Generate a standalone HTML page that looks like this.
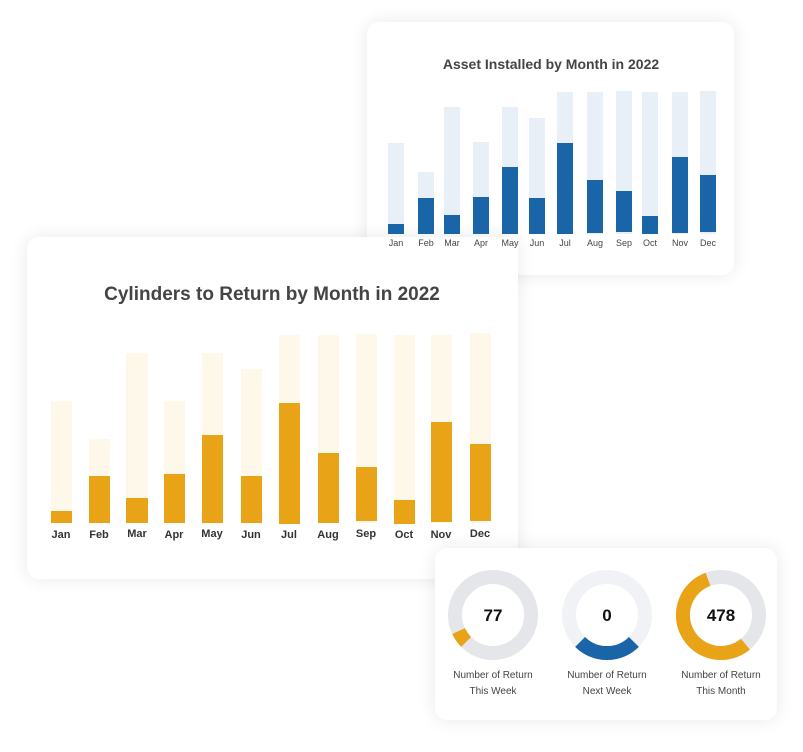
<!DOCTYPE html>
<html><head><style>
html,body{margin:0;padding:0;background:#fff;width:803px;height:752px;overflow:hidden}
.card{position:absolute;background:#fff;border-radius:12px;box-shadow:0 0 18px rgba(0,0,0,0.09)}
svg{position:absolute;left:0;top:0}
text{font-family:"Liberation Sans",sans-serif}
</style></head><body>
<div class="card" style="left:367px;top:22px;width:367px;height:253px"></div>
<div class="card" style="left:27px;top:237px;width:491px;height:342px"></div>
<div class="card" style="left:435px;top:548px;width:342px;height:172px"></div>
<svg width="803" height="752">
<text x="551" y="69" text-anchor="middle" font-size="14" font-weight="bold" fill="#444">Asset Installed by Month in 2022</text>
<g fill="#E8EFF6">
<rect x="388" y="143" width="16" height="91"/><rect x="418" y="172" width="16" height="62"/><rect x="444" y="107" width="16" height="127"/><rect x="473" y="142" width="16" height="92"/><rect x="502" y="107" width="16" height="127"/><rect x="529" y="118" width="16" height="116"/><rect x="557" y="92" width="16" height="142"/><rect x="587" y="92" width="16" height="142"/><rect x="616" y="91" width="16" height="143"/><rect x="642" y="92" width="16" height="142"/><rect x="672" y="92" width="16" height="142"/><rect x="700" y="91" width="16" height="143"/>
</g>
<g fill="#1A65A8">
<rect x="388" y="224" width="16" height="10"/><rect x="418" y="198" width="16" height="36"/><rect x="444" y="215" width="16" height="19"/><rect x="473" y="197" width="16" height="37"/><rect x="502" y="167" width="16" height="67"/><rect x="529" y="198" width="16" height="36"/><rect x="557" y="143" width="16" height="91"/><rect x="587" y="180" width="16" height="53"/><rect x="616" y="191" width="16" height="41"/><rect x="642" y="216" width="16" height="18"/><rect x="672" y="157" width="16" height="76"/><rect x="700" y="175" width="16" height="57"/>
</g>
<g font-size="9" fill="#444" text-anchor="middle">
<text x="396" y="246">Jan</text><text x="426" y="246">Feb</text><text x="452" y="246">Mar</text><text x="481" y="246">Apr</text><text x="510" y="246">May</text><text x="537" y="246">Jun</text><text x="565" y="246">Jul</text><text x="595" y="246">Aug</text><text x="624" y="246">Sep</text><text x="650" y="246">Oct</text><text x="680" y="246">Nov</text><text x="708" y="246">Dec</text>
</g>

<text x="272" y="300" text-anchor="middle" font-size="19" font-weight="bold" fill="#444">Cylinders to Return by Month in 2022</text>
<g fill="#FDF8EA">
<rect x="51" y="401" width="21" height="122"/><rect x="89" y="439" width="21" height="84"/><rect x="126" y="353" width="22" height="170"/><rect x="164" y="401" width="21" height="122"/><rect x="202" y="353" width="21" height="170"/><rect x="241" y="369" width="21" height="154"/><rect x="279" y="335" width="21" height="188"/><rect x="318" y="335" width="21" height="188"/><rect x="356" y="334" width="21" height="189"/><rect x="394" y="335" width="21" height="188"/><rect x="431" y="335" width="21" height="188"/><rect x="470" y="333" width="21" height="190"/>
</g>
<g fill="#E8A317">
<rect x="51" y="511" width="21" height="12"/><rect x="89" y="476" width="21" height="47"/><rect x="126" y="498" width="22" height="25"/><rect x="164" y="474" width="21" height="49"/><rect x="202" y="435" width="21" height="88"/><rect x="241" y="476" width="21" height="47"/><rect x="279" y="403" width="21" height="121"/><rect x="318" y="453" width="21" height="70"/><rect x="356" y="467" width="21" height="54"/><rect x="394" y="500" width="21" height="24"/><rect x="431" y="422" width="21" height="100"/><rect x="470" y="444" width="21" height="77"/>
</g>
<g font-size="11" font-weight="bold" fill="#333" text-anchor="middle">
<text x="61" y="538">Jan</text><text x="99" y="538">Feb</text><text x="137" y="537">Mar</text><text x="174" y="538">Apr</text><text x="212" y="537">May</text><text x="251" y="538">Jun</text><text x="289" y="538">Jul</text><text x="328" y="538">Aug</text><text x="366" y="537">Sep</text><text x="404" y="538">Oct</text><text x="441" y="538">Nov</text><text x="480" y="537">Dec</text>
</g>

<g fill="none" stroke-width="14">
<circle cx="493" cy="615" r="38" stroke="#E4E6E9"/>
<circle cx="607" cy="615" r="38" stroke="#F0F2F5"/>
<circle cx="721" cy="615" r="38" stroke="#E4E6E9"/>
<!-- 77: arc 225deg to 245deg clockwise from top -->
<path d="M466.1 641.9 A38 38 0 0 1 458.6 631.1" stroke="#E8A317"/>
<!-- 0: bottom arc 135 to 225 -->
<path d="M633.9 641.9 A38 38 0 0 1 580.1 641.9" stroke="#1A65A8"/>
<!-- 478: from 140deg clockwise to 340deg -->
<path d="M745.4 644.1 A38 38 0 1 1 708.0 579.3" stroke="#E8A317"/>
</g>
<g font-size="17" font-weight="bold" fill="#111" text-anchor="middle">
<text x="493" y="621">77</text><text x="607" y="621">0</text><text x="721" y="621">478</text>
</g>
<g font-size="10" fill="#444" text-anchor="middle">
<text x="493" y="678">Number of Return</text><text x="493" y="694">This Week</text>
<text x="607" y="678">Number of Return</text><text x="607" y="694">Next Week</text>
<text x="721" y="678">Number of Return</text><text x="721" y="694">This Month</text>
</g>
</svg>
</body></html>
